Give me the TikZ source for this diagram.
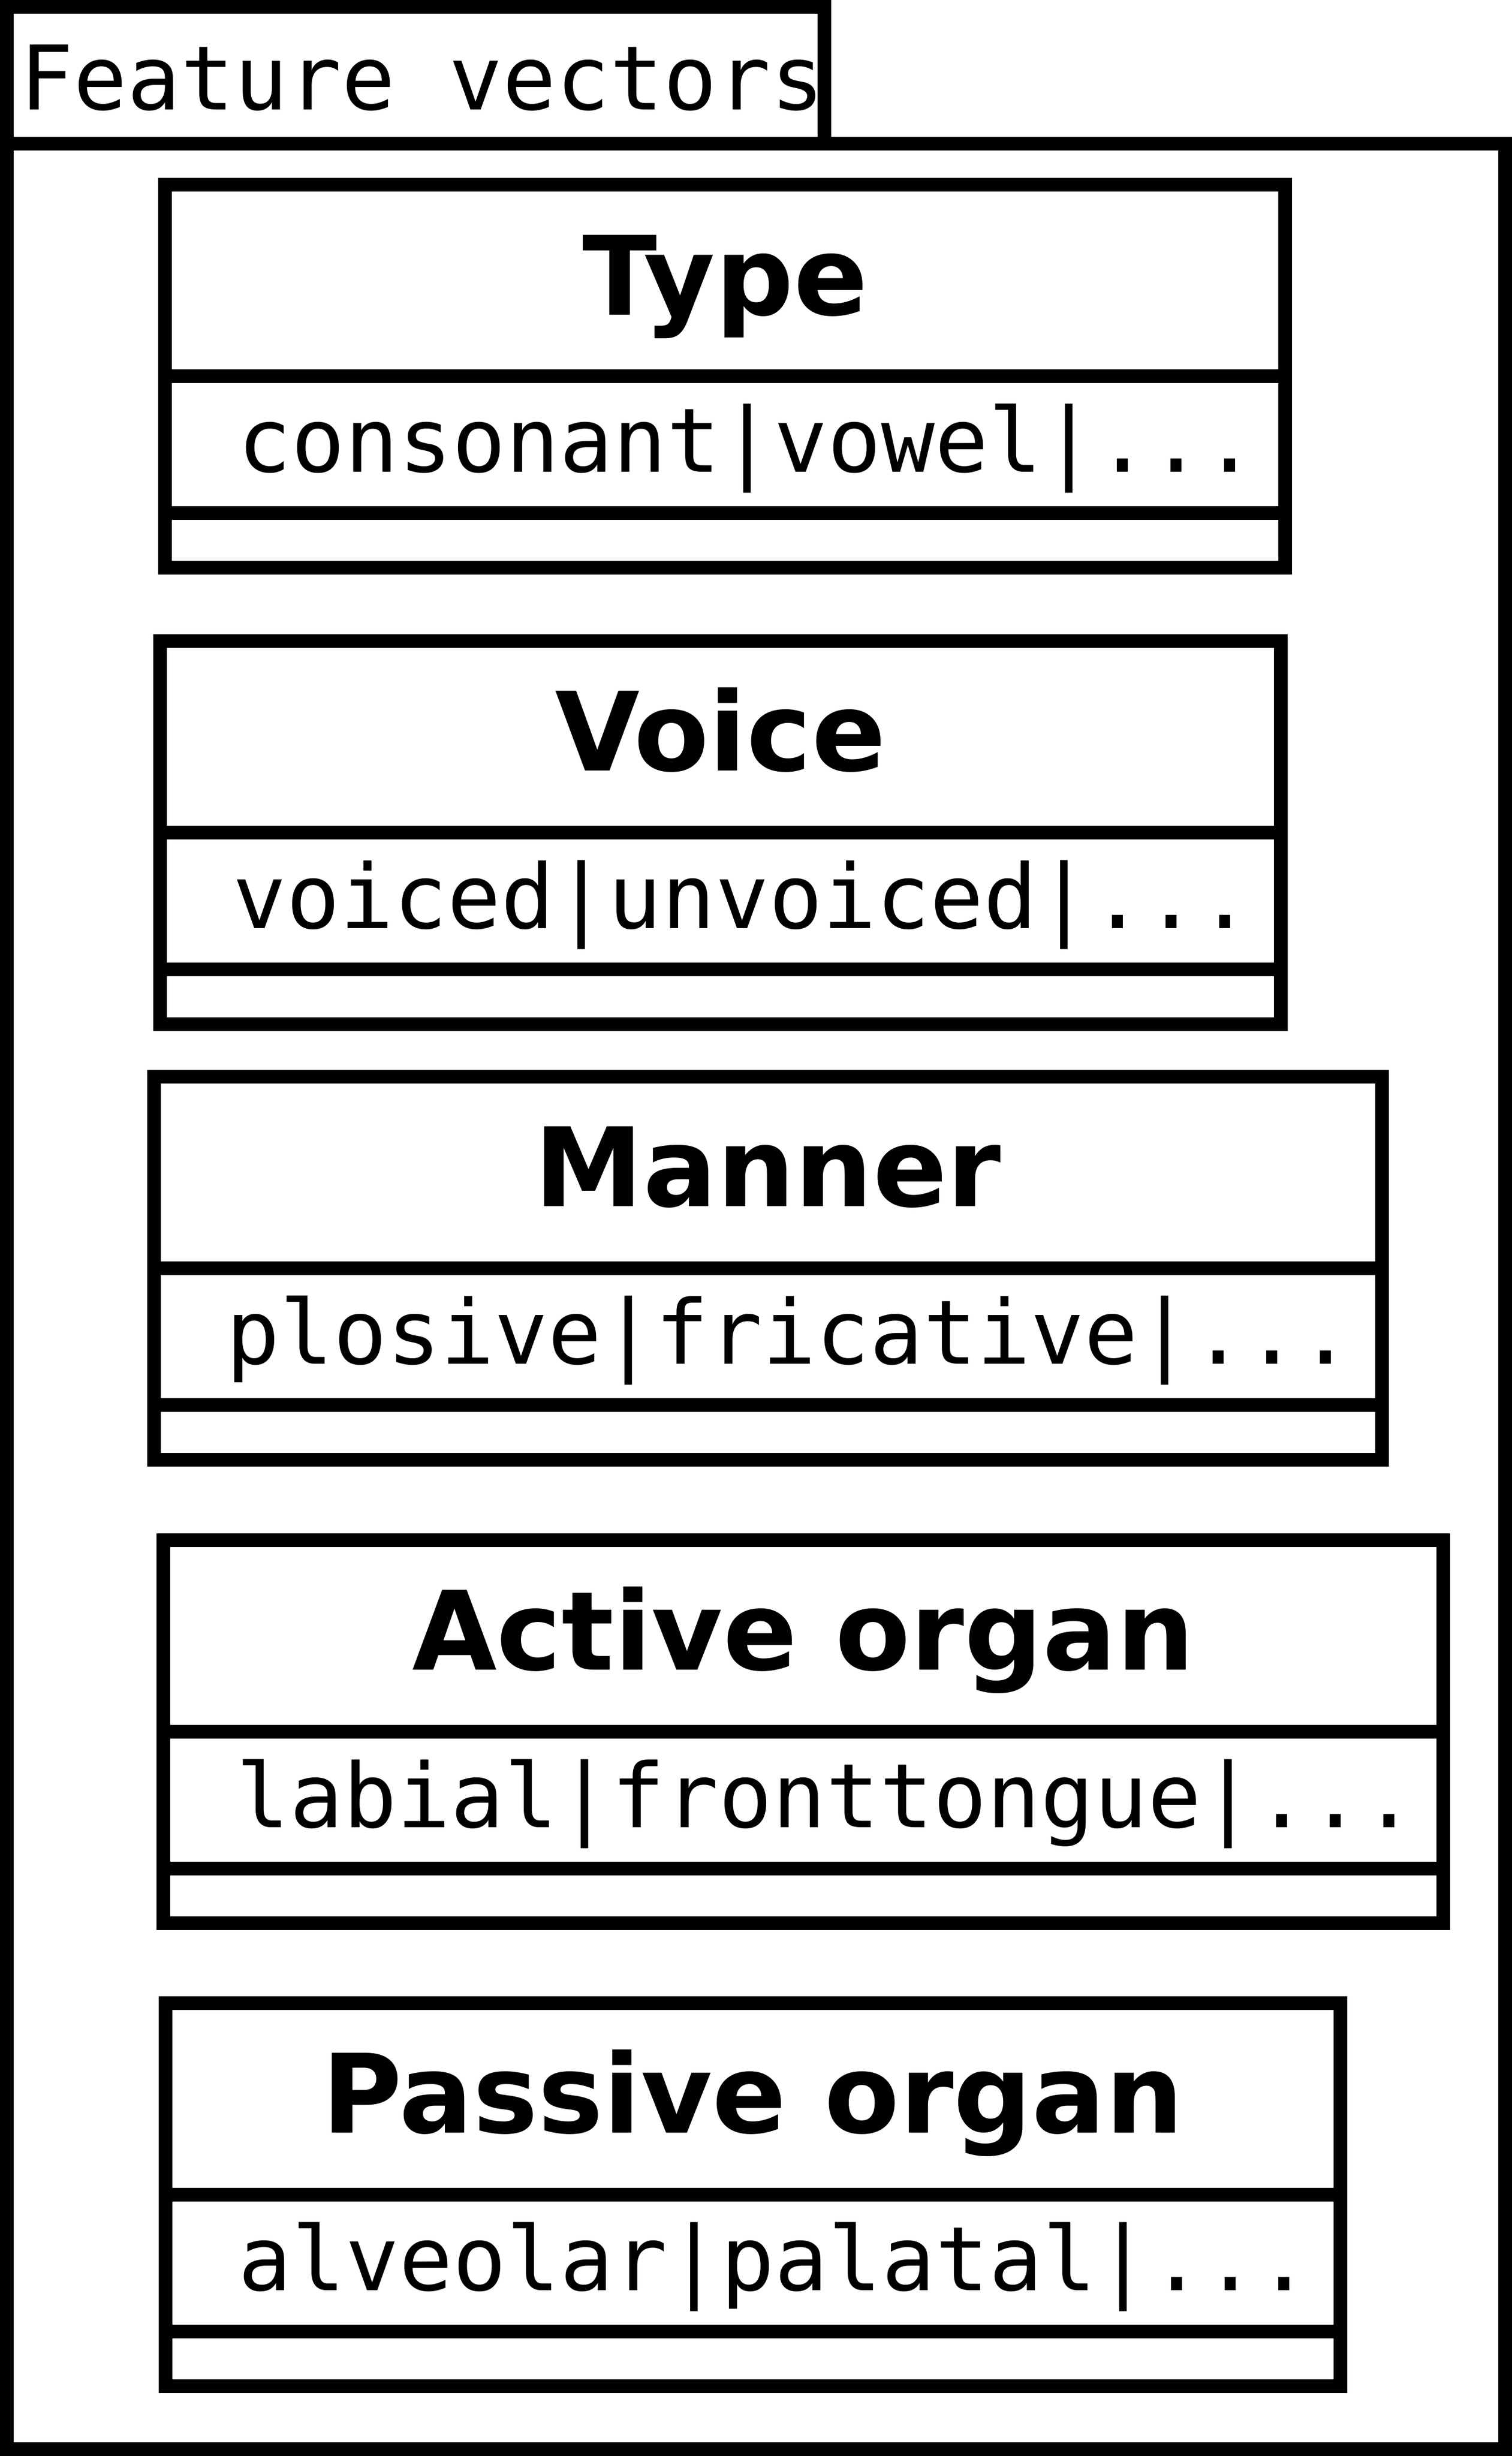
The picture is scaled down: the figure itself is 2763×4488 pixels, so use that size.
\documentclass[tikz,border=0pt]{standalone}
\usepackage{fontspec}
\setmainfont{DejaVu Sans}
\newfontfamily\monofnt{DejaVu Sans Mono}
\tikzset{
  frameline/.style={draw=black, line width=6.25pt, line join=miter},
  titletext/.style={font=\fontsize{50pt}{60pt}\selectfont\bfseries, anchor=base, inner sep=0pt},
  attrtext/.style={font=\monofnt\fontsize{40.7pt}{48pt}\selectfont, anchor=base west, inner sep=0pt},
}
% #1 name, #2 left, #3 right, #4 top, #5 title, #6 attribute
\newcommand{\featbox}[6]{%
  \draw[frameline] (#2,#4) rectangle (#3,#4+700);
  \draw[frameline] (#2,#4+350) -- (#3,#4+350);
  \draw[frameline] (#2,#4+600) -- (#3,#4+600);
  \node[titletext] (#1-title) at ({(#2+#3)/2},#4+237.5) {#5};
  \node[attrtext] (#1-attr) at (#2+132,#4+525) {#6};
}
\begin{document}
\begin{tikzpicture}[x=0.25pt,y=-0.25pt]
  \useasboundingbox (0,0) rectangle (2763,4488);
  % package tab and frame
  \draw[frameline] (12.5,12.5) rectangle (1506.5,262.5);
  \draw[frameline] (12.5,262.5) rectangle (2750.5,4475.5);
  \node[attrtext] (pkg) at (36,200) {Feature vectors};
  % feature classes
  \featbox{type}{301.5}{2348.5}{337.5}{Type}{consonant|vowel|...}
  \featbox{voice}{292.5}{2340.5}{1171}{Voice}{voiced|unvoiced|...}
  \featbox{manner}{281}{2525}{1967}{Manner}{plosive|fricative|...}
  \featbox{active}{298.5}{2637.5}{2814}{Active organ}{labial|fronttongue|...}
  \featbox{passive}{302.5}{2449}{3660}{Passive organ}{alveolar|palatal|...}
\end{tikzpicture}
\end{document}
